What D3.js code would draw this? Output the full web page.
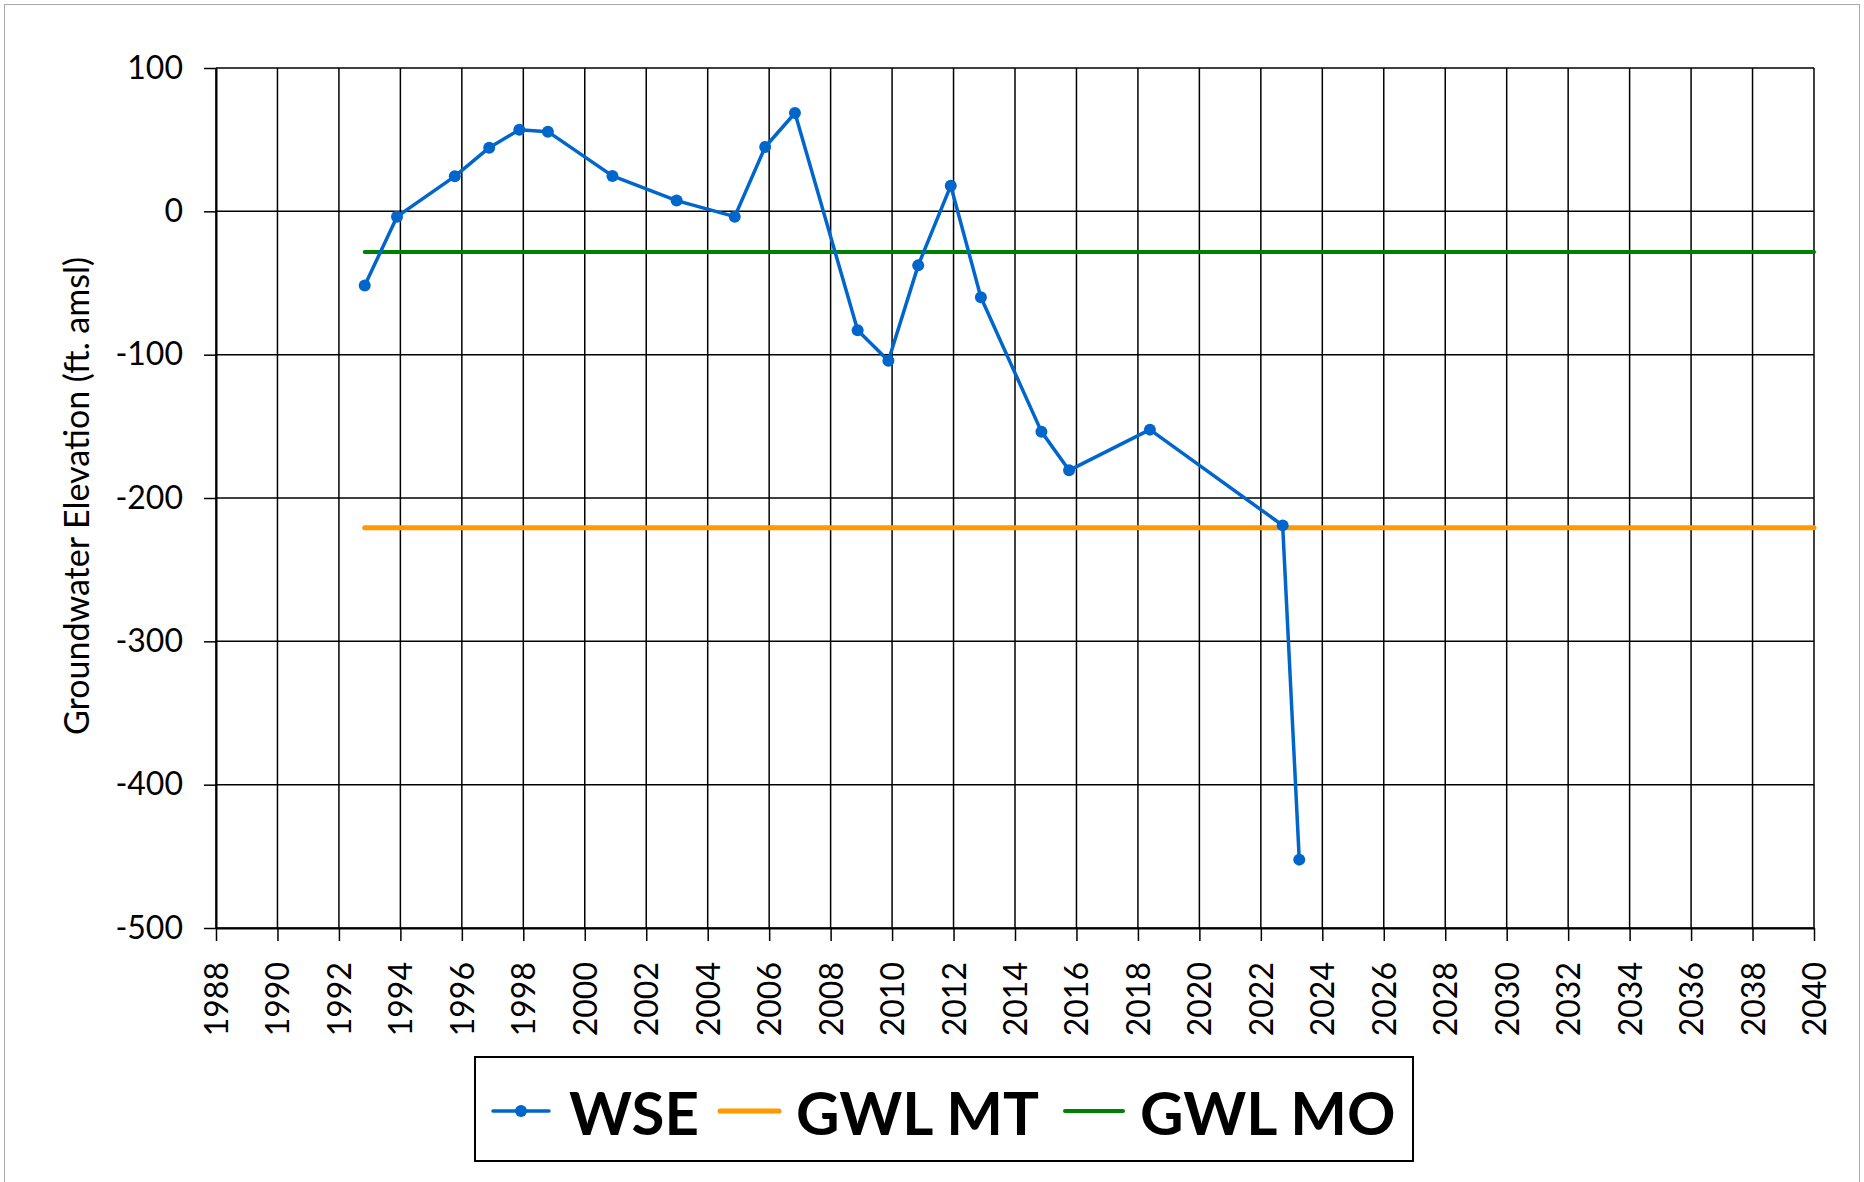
<!DOCTYPE html>
<html>
<head>
<meta charset="utf-8">
<script src="https://cdn.jsdelivr.net/npm/d3@7"></script>
<style>
  body { margin: 0; background: #fff; }
  svg { display: block; }
</style>
</head>
<body>
<div id="chart-area"></div>
<script>
// WSE measurements (decimal year, ft amsl)
let wseYears = [1992.84, 1993.89, 1995.77, 1996.89, 1997.87, 1998.80, 2000.90, 2002.99, 2004.88, 2005.87,
                2006.84, 2008.88, 2009.88, 2010.85, 2011.91, 2012.89, 2014.86, 2015.76, 2018.39, 2022.71, 2023.25]
let wseValues = [-51.8, -3.7, 24.4, 44.4, 57.0, 55.6, 24.7, 7.5, -3.7, 44.9,
                 68.6, -83.0, -104.2, -37.7, 17.9, -60.0, -153.7, -180.7, -152.3, -219.1, -452.3]

// thresholds
let mtYears = [1992.84, 2040]
let mtValues = [-220.7, -220.7]
let moYears = [1992.84, 2040]
let moValues = [-28.3, -28.3]

let xTicks = d3.range(1988, 2041, 2)
let yTicks = [-500, -400, -300, -200, -100, 0, 100]

let width = 1864
let height = 1182
let plotLeft = 216, plotRight = 1814, plotTop = 68, plotBottom = 928

let svg = d3.select("#chart-area")
            .append('svg')
            .attr('width', width)
            .attr('height', height)

// outer chart border
svg.append('rect')
    .attr('x', 4.5).attr('y', 4.5)
    .attr('width', 1855).attr('height', 1190)
    .attr('fill', 'none')
    .attr('stroke', '#aaaaaa')
    .attr('stroke-width', 1)

let xScale = d3.scaleLinear()
                .domain([1988, 2040])
                .range([plotLeft, plotRight])

let yScale = d3.scaleLinear()
                .domain([-500, 100])
                .range([plotBottom, plotTop])

// grid
svg.append('g')
    .selectAll('line')
    .data(xTicks)
    .enter()
    .append('line')
    .attr('x1', d => xScale(d)).attr('x2', d => xScale(d))
    .attr('y1', plotTop).attr('y2', plotBottom)
    .attr('stroke', '#000')
    .attr('stroke-width', 1.5)

svg.append('g')
    .selectAll('line')
    .data(yTicks)
    .enter()
    .append('line')
    .attr('x1', plotLeft).attr('x2', plotRight)
    .attr('y1', d => yScale(d)).attr('y2', d => yScale(d))
    .attr('stroke', '#000')
    .attr('stroke-width', 1.5)

// axes
let xAxis = svg.append('g')
    .attr('transform', `translate(0,${plotBottom})`)
    .call(d3.axisBottom(xScale).tickValues(xTicks).tickFormat(d => String(d)).tickSize(13).tickSizeOuter(0))

xAxis.selectAll('text')
    .attr('transform', 'rotate(-90)')
    .attr('text-anchor', 'end')
    .attr('x', -34)
    .attr('y', 0)
    .attr('dy', '0.36em')
    .style('font-family', 'Lato, sans-serif')
    .style('font-size', '32px')
    .attr('fill', '#000')

let yAxis = svg.append('g')
    .attr('transform', `translate(${plotLeft},0)`)
    .call(d3.axisLeft(yScale).tickValues(yTicks).tickFormat(d => String(d)).tickSize(12).tickPadding(21).tickSizeOuter(0))

yAxis.selectAll('text')
    .style('font-family', 'Lato, sans-serif')
    .style('font-size', '32px')
    .attr('fill', '#000')

svg.selectAll('.domain').attr('stroke', '#000').attr('stroke-width', 2)
svg.selectAll('.tick line').attr('stroke', '#000').attr('stroke-width', 1.5)

// y axis title
svg.append('text')
    .attr('transform', 'translate(89,496) rotate(-90)')
    .attr('text-anchor', 'middle')
    .style('font-family', 'Lato, sans-serif')
    .style('font-size', '34px')
    .text('Groundwater Elevation (ft. amsl)')

let line = d3.line()
    .x(d => xScale(d[0]))
    .y(d => yScale(d[1]))

// GWL MT
svg.append('path')
    .datum(d3.zip(mtYears, mtValues))
    .attr('d', line)
    .attr('fill', 'none')
    .attr('stroke', '#FF9900')
    .attr('stroke-width', 5)
    .attr('stroke-linecap', 'round')

// GWL MO
svg.append('path')
    .datum(d3.zip(moYears, moValues))
    .attr('d', line)
    .attr('fill', 'none')
    .attr('stroke', '#008000')
    .attr('stroke-width', 4)
    .attr('stroke-linecap', 'round')

// WSE
let wse = d3.zip(wseYears, wseValues)
svg.append('path')
    .datum(wse)
    .attr('d', line)
    .attr('fill', 'none')
    .attr('stroke', '#0066CC')
    .attr('stroke-width', 3.5)
    .attr('stroke-linejoin', 'round')

svg.append('g')
    .selectAll('circle')
    .data(wse)
    .enter()
    .append('circle')
    .attr('cx', d => xScale(d[0]))
    .attr('cy', d => yScale(d[1]))
    .attr('r', 6)
    .attr('fill', '#0066CC')

// legend
let legend = svg.append('g')
legend.append('rect')
    .attr('x', 475).attr('y', 1057)
    .attr('width', 938).attr('height', 104)
    .attr('fill', '#fff')
    .attr('stroke', '#000')
    .attr('stroke-width', 2)

let legendItems = [
    { name: 'WSE', color: '#0066CC', w: 3.5, x1: 493, x2: 549, tx: 569, marker: true },
    { name: 'GWL MT', color: '#FF9900', w: 5, x1: 720, x2: 779, tx: 796, marker: false },
    { name: 'GWL MO', color: '#008000', w: 4, x1: 1065, x2: 1123, tx: 1140, marker: false }
]

legendItems.forEach(it => {
    legend.append('line')
        .attr('x1', it.x1).attr('x2', it.x2)
        .attr('y1', 1111).attr('y2', 1111)
        .attr('stroke', it.color)
        .attr('stroke-width', it.w)
        .attr('stroke-linecap', 'round')
    if (it.marker) {
        legend.append('circle')
            .attr('cx', (it.x1 + it.x2) / 2).attr('cy', 1111)
            .attr('r', 6)
            .attr('fill', it.color)
    }
    legend.append('text')
        .attr('x', it.tx).attr('y', 1135)
        .style('font-family', 'Lato, sans-serif')
        .style('font-weight', 'bold')
        .style('font-size', '60px')
        .text(it.name)
})
</script>
</body>
</html>
